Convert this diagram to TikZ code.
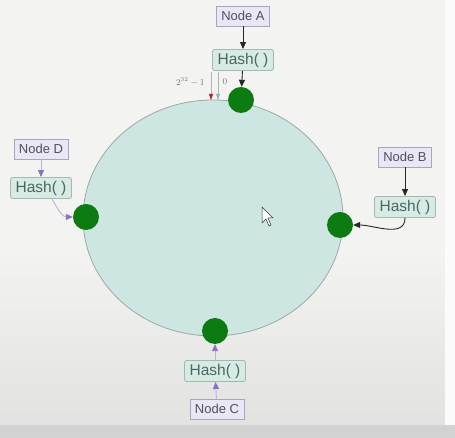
\documentclass[tikz,border=0pt]{standalone}
\usepackage{fontspec}
\setmainfont{Liberation Sans}
\usetikzlibrary{arrows.meta}

\definecolor{bgcol}{HTML}{F3F3F1}
\definecolor{bgdark}{HTML}{E2E2E0}
\definecolor{barcol}{HTML}{D2D2D2}
\definecolor{ringcol}{HTML}{CDE6E2}
\definecolor{ringedge}{HTML}{9AAAA6}
\definecolor{dotcol}{HTML}{0C7B12}
\definecolor{nodefill}{HTML}{E9E6F5}
\definecolor{nodeedge}{HTML}{A9A6BC}
\definecolor{nodetext}{HTML}{505060}
\definecolor{hashfill}{HTML}{D6EBE4}
\definecolor{hashedge}{HTML}{A3B8B0}
\definecolor{hashtext}{HTML}{4D6663}
\definecolor{arrpurple}{HTML}{8A70C8}
\definecolor{maxred}{HTML}{B3242C}
\definecolor{zeroblue}{HTML}{8FB8CF}

\tikzset{
  nodebox/.style={draw=nodeedge,fill=nodefill,text=nodetext,line width=0.8pt,
    minimum height=20pt,inner xsep=5pt,font=\fontsize{13}{15}\selectfont},
  hashbox/.style={draw=hashedge,fill=hashfill,text=hashtext,line width=0.8pt,
    rounded corners=2pt,minimum height=19pt,inner xsep=5pt,
    font=\fontsize{15.5}{17}\selectfont},
  ringdot/.style={circle,fill=dotcol,minimum size=26pt,inner sep=0pt},
  blackarr/.style={-{Triangle[length=7pt,width=6pt]},line width=0.9pt,black!85},
  purplearr/.style={-{Triangle[length=7pt,width=6pt,color=arrpurple]},
    line width=0.9pt,arrpurple!55},
  marklbl/.style={text=black!55,font=\fontsize{9}{10}\selectfont}
}

\begin{document}
\begin{tikzpicture}[x=1pt,y=1pt]
\useasboundingbox (0,0) rectangle (455,438);

% background
\fill[bgcol] (0,0) rectangle (455,438);
\shade[top color=bgcol,bottom color=bgdark] (0,13) rectangle (445,190);
\fill[barcol] (0,0) rectangle (455,13);
\fill[white!70!bgcol] (445,13) rectangle (455,438);

\coordinate (cOPt) at (213,220);
\draw[ringedge,line width=0.8pt,fill=ringcol] (cOPt) ellipse (130 and 118);

%ring positions
\node[ringdot] (dA) at (241,338) {};
\node[ringdot] (dB) at (340,213) {};
\node[ringdot] (dC) at (215,107) {};
\node[ringdot] (dD) at (86,221) {};

\node[nodebox] (nA) at (243,422) {Node A};
\node[hashbox] (hA) at (243,378) {Hash( )};
\node[nodebox] (nB) at (405,281) {Node B};
\node[hashbox] (hB) at (405,231) {Hash( )};
\node[nodebox] (nC) at (217,29) {Node C};
\node[hashbox] (hC) at (215,67) {Hash( )};
\node[nodebox] (nD) at (41,289) {Node D};
\node[hashbox] (hD) at (41,250) {Hash( )};

\draw[blackarr] (nA) -- (hA);
\draw[blackarr] (hA) -- (dA);
\draw[blackarr] (nB) -- (hB);
\draw[blackarr] (hB.south) to[out=-90,in=0] (dB.east);
\draw[purplearr] (nC) -- (hC);
\draw[purplearr] (hC) -- (dC);
\draw[purplearr] (nD) -- (hD);
\draw[purplearr] (hD.-45) to[out=-60,in=180] (dD.west);

%0 and 2^32-1 marks
\coordinate (cMaxPt) at (211,366);
\coordinate (cMaxTip) at (211,338);
\coordinate (cZeroPt) at (218,366);
\coordinate (cZeroTip) at (218,338);
\draw[black!30,line width=0.5pt,-{Triangle[length=6pt,width=4pt,color=maxred]}] (cMaxPt) -- (cMaxTip);
\draw[black!30,line width=0.5pt,-{Triangle[length=6pt,width=4pt,color=zeroblue]}] (cZeroPt) -- (cZeroTip);
\node[marklbl,anchor=east] (lMax) at (208,356) {$2^{32}-1$};
\node[marklbl,anchor=west] (lZero) at (219,356) {$0$};

% cursor
\draw[black!80,fill=white,line width=0.5pt] (262,231) -- (262,215) -- (266,219) -- (269,212)
  -- (271,213) -- (268,220) -- (273,220) -- cycle;
\end{tikzpicture}
\end{document}
